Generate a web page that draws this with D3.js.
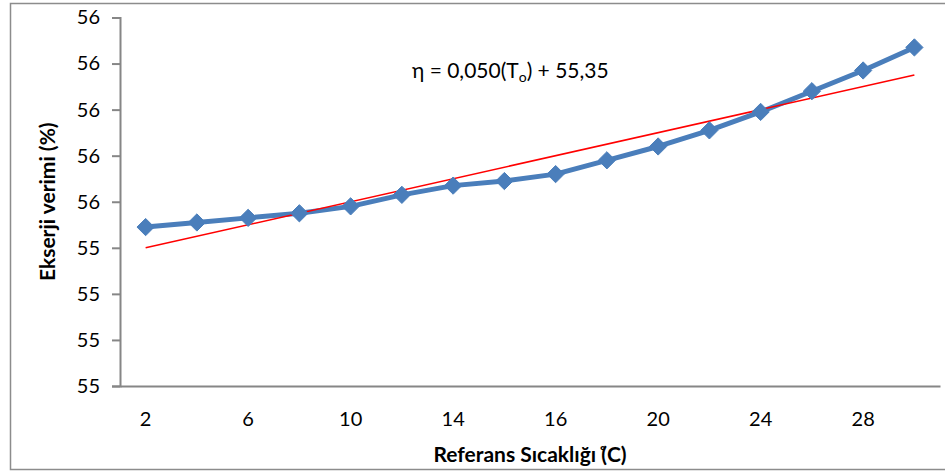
<!DOCTYPE html>
<html>
<head>
<meta charset="utf-8">
<script src="https://cdn.jsdelivr.net/npm/d3@7"></script>
<style>
  body { margin: 0; background: #fff; }
  text { font-family: Lato, "Open Sans", sans-serif; fill: #000; }
</style>
</head>
<body>
<div id="area"></div>
<script>
var width = 945;
var height = 472;

// data
var categories = ["2", "4", "6", "8", "10", "12", "14", "15", "16", "18", "20", "22", "24", "26", "28", "30"];
var tickLabels = ["2", "6", "10", "14", "16", "20", "24", "28"];
var verim = [55.49, 55.51, 55.53, 55.55, 55.58, 55.63, 55.67, 55.69, 55.72, 55.78, 55.84, 55.91, 55.99, 56.08, 56.17, 56.27];
var yTicks = [54.8, 55.0, 55.2, 55.4, 55.6, 55.8, 56.0, 56.2, 56.4];
var trendSlope = 0.050;
var trendIntercept = 55.35;

var plotLeft = 120, plotRight = 940, plotTop = 17.5, plotBottom = 386;

var svg = d3.select("#area").append("svg")
    .attr("width", width)
    .attr("height", height);

svg.append("rect") // Rahmen
    .attr("x", 10.5)
    .attr("y", 3.5)
    .attr("width", 960)
    .attr("height", 466)
    .attr("fill", "none")
    .attr("stroke", "#8c8c8c")
    .attr("stroke-width", 1.5);

var x = d3.scaleBand()
    .domain(categories)
    .range([plotLeft, plotRight]);

var y = d3.scaleLinear()
    .domain([54.8, 56.4])
    .range([plotBottom, plotTop]);

// y axis
var yAxis = svg.append("g")
    .attr("transform", "translate(" + plotLeft + ",0)")
    .call(d3.axisLeft(y).tickValues(yTicks).tickFormat(d3.format(".0f")).tickSize(8).tickPadding(12));
yAxis.select(".domain").attr("stroke", "#868686").attr("stroke-width", 2);
yAxis.selectAll(".tick line").attr("stroke", "#868686").attr("stroke-width", 2);
yAxis.selectAll("text").style("font-size", "20px").attr("fill", "#000");

// x axis
var xAxis = svg.append("g")
    .attr("transform", "translate(0," + plotBottom + ")")
    .call(d3.axisBottom(x).tickSize(0).tickPadding(26)
        .tickFormat(function(d) { return tickLabels.indexOf(d) >= 0 && categories.indexOf(d) % 2 == 0 ? d : ""; }));
xAxis.select(".domain").attr("stroke", "#868686").attr("stroke-width", 2);
xAxis.selectAll("text").style("font-size", "20px").attr("fill", "#000");

function cx(d, i) { return x(categories[i]) + x.bandwidth() / 2; }

// data line
svg.append("path")
    .datum(verim)
    .attr("fill", "none")
    .attr("stroke", "#4a7ebb")
    .attr("stroke-width", 5)
    .attr("stroke-linejoin", "round")
    .attr("d", d3.line().x(cx).y(function(d) { return y(d); }));

// trend line
var trend = categories.map(function(c, i) { return trendIntercept + trendSlope * (i + 1); });
svg.append("path")
    .datum([trend[0], trend[trend.length - 1]])
    .attr("fill", "none")
    .attr("stroke", "#ff0000")
    .attr("stroke-width", 1.5)
    .attr("d", d3.line()
        .x(function(d, i) { return i == 0 ? cx(d, 0) : cx(d, categories.length - 1); })
        .y(function(d) { return y(d); }));

// markers
svg.append("g").selectAll("path")
    .data(verim)
    .enter().append("path")
    .attr("transform", function(d, i) { return "translate(" + cx(d, i) + "," + y(d) + ")"; })
    .attr("d", d3.symbol().type(d3.symbolDiamond2).size(190))
    .attr("fill", "#4a7ebb")
    .attr("stroke", "#4a7ebb")
    .attr("stroke-width", 1);

// equation
var eq = svg.append("text")
    .attr("x", 412)
    .attr("y", 78)
    .style("font-size", "21px");
eq.append("tspan").text("η = 0,050(T");
eq.append("tspan").attr("dy", 4).style("font-size", "14px").text("o");
eq.append("tspan").attr("dy", -4).text(") + 55,35");

// axis titles
svg.append("text")
    .attr("x", (plotLeft + plotRight) / 2)
    .attr("y", 462)
    .attr("text-anchor", "middle")
    .style("font-size", "21px")
    .style("font-weight", "bold")
    .text("Referans Sıcaklığı (̊C)");

svg.append("text")
    .attr("transform", "translate(55," + ((plotTop + plotBottom) / 2) + ") rotate(-90)")
    .attr("text-anchor", "middle")
    .style("font-size", "21px")
    .style("font-weight", "bold")
    .text("Ekserji verimi (%)");
</script>
</body>
</html>
